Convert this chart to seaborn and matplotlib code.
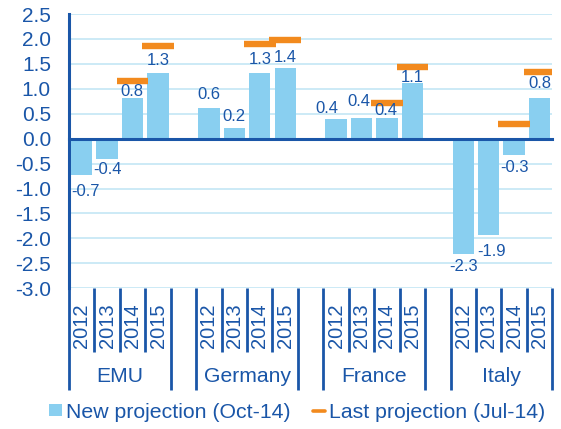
import numpy as np
import pandas as pd
import matplotlib
matplotlib.use("Agg")
import matplotlib.pyplot as plt
from matplotlib.patches import Patch
from matplotlib.lines import Line2D
import seaborn as sns

# ---- data ----
groups = ["EMU", "Germany", "France", "Italy"]
years = ["2012", "2013", "2014", "2015"]
emu_new = [-0.73, -0.40, 0.82, 1.32]
germany_new = [0.62, 0.22, 1.32, 1.41]
france_new = [0.39, 0.41, 0.42, 1.11]
italy_new = [-2.32, -1.93, -0.33, 0.82]
emu_last = [np.nan, np.nan, 1.16, 1.86]
germany_last = [np.nan, np.nan, 1.89, 1.97]
france_last = [np.nan, np.nan, 0.71, 1.43]
italy_last = [np.nan, np.nan, 0.29, 1.33]
y_ticks = [-3.0, -2.5, -2.0, -1.5, -1.0, -0.5, 0.0, 0.5, 1.0, 1.5, 2.0, 2.5]
legend_labels = ["New projection (Oct-14)", "Last projection (Jul-14)"]

# label nudges (pixels) to mimic the reference placement
label_dx = [4, 0, -1, 0, 0, 0, 0, 0, -9, -3, -1, 0, 0, 3, 0, 0]
label_dy = [-16.7, -11.3, 6, 12.2, 13.2, 11.4, 13.7, 11.1,
            10.8, 16.8, 6.9, 5.8, -12.4, -17, -12.2, 14.5]

new_all = [emu_new, germany_new, france_new, italy_new]
last_all = [emu_last, germany_last, france_last, italy_last]

rows = []
order = []
for gi, g in enumerate(groups):
    for yi, y in enumerate(years):
        cat = f"{g} {y}"
        order.append(cat)
        rows.append({"cat": cat, "group": g, "year": y,
                     "new": new_all[gi][yi], "last": last_all[gi][yi]})
    if gi < len(groups) - 1:
        order.append(" " * (gi + 1))
df = pd.DataFrame(rows)
df["pos"] = [order.index(c) for c in df["cat"]]

# ---- style ----
LIGHT = "#89CFF0"
DARK = "#1A56A8"
ORANGE = "#F28A1E"
GRID = "#C8E8F6"

sns.set_style("white")
plt.rcParams["font.family"] = ["Liberation Sans", "DejaVu Sans"]
plt.rcParams["axes.unicode_minus"] = False

W, H = 561, 429
fig = plt.figure(figsize=(W / 100, H / 100), dpi=100)
left, right, top, bottom = 69, 552.3, 14, 288.3
ax = fig.add_axes([left / W, 1 - bottom / H, (right - left) / W, (bottom - top) / H])
axh = bottom - top

sns.barplot(data=df, x="cat", y="new", order=order, width=0.84, color=LIGHT,
            saturation=1, linewidth=0, ax=ax, zorder=3)

ax.errorbar(df["pos"], df["last"], xerr=0.62, fmt="none", ecolor=ORANGE,
            elinewidth=4.6, capsize=0, zorder=4)

for i, r in df.iterrows():
    ax.annotate(f"{r['new']:.1f}", (r["pos"], r["new"]),
                xytext=(label_dx[i] * 0.72, label_dy[i] * 0.72),
                textcoords="offset points", ha="center", va="center",
                fontsize=12, color=DARK, zorder=5)

ax.set_xlim(-0.5, len(order) - 0.5)
ax.set_ylim(-3.0, 2.5)
ax.set_xlabel("")
ax.set_ylabel("")

for s in ["top", "right"]:
    ax.spines[s].set_visible(False)
ax.spines["bottom"].set_position(("data", 0))
ax.spines["bottom"].set_color(DARK)
ax.spines["bottom"].set_linewidth(2.2)
ax.spines["bottom"].set_zorder(6)
ax.spines["left"].set_color(DARK)
ax.spines["left"].set_linewidth(2.2)

ax.set_xticks(np.arange(-0.5, len(order), 1.0))
ax.tick_params(axis="x", length=4.5, width=1.8, direction="out", color=DARK,
               labelbottom=False)
ax.set_yticks(y_ticks)
ax.set_yticklabels([f"{v:.1f}" for v in y_ticks])
ax.tick_params(axis="y", length=5, width=1.8, direction="out", color=DARK,
               pad=8, labelsize=15, labelcolor=DARK)

ax.set_axisbelow(True)
ax.yaxis.grid(True, color=GRID, linewidth=1.3)
ax.xaxis.grid(False)

trans = ax.get_xaxis_transform()
year_y = (bottom - 325.5) / axh
group_y = (bottom - 376.7) / axh
short_y = (bottom - 352) / axh
full_y = (bottom - 390) / axh

for i, r in df.iterrows():
    ax.text(r["pos"], year_y, r["year"], transform=trans, rotation=90,
            ha="center", va="center", fontsize=14.5, color=DARK)

for g in groups:
    p = df.loc[df["group"] == g, "pos"]
    ax.text(p.mean(), group_y, g, transform=trans, ha="center", va="center",
            fontsize=15.2, color=DARK)
    lo, hi = p.min() - 0.5, p.max() + 0.5
    ax.vlines([lo, hi], full_y, 0, transform=trans, clip_on=False,
              color=DARK, linewidth=2)
    ax.vlines(np.arange(lo + 1, hi), short_y, 0, transform=trans,
              clip_on=False, color=DARK, linewidth=2)

handles = [Patch(facecolor=LIGHT, edgecolor="none"),
           Line2D([], [], color=ORANGE, linewidth=2.6)]
fig.legend(handles, legend_labels, loc="center left",
           bbox_to_anchor=(49 / W, 1 - 412 / H), ncol=2, frameon=False,
           fontsize=15.3, handlelength=0.6, handleheight=0.55,
           handletextpad=0.18, columnspacing=1.05, borderpad=0,
           borderaxespad=0, labelcolor=DARK)

fig.savefig("out.png", dpi=100)
